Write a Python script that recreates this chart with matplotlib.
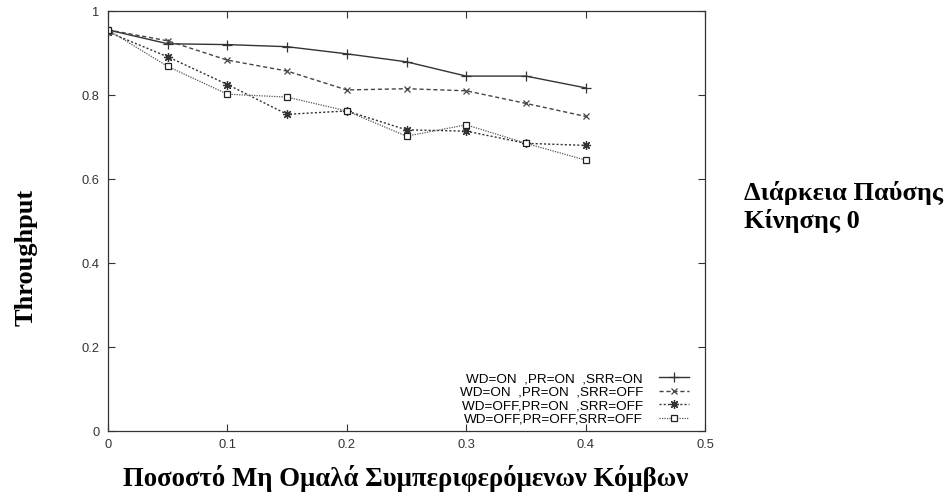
import matplotlib
matplotlib.use("Agg")
import matplotlib.pyplot as plt

# x: fraction of misbehaving nodes
x = [0.0, 0.05, 0.1, 0.15, 0.2, 0.25, 0.3, 0.35, 0.4]

# throughput per configuration
on_on_on = [0.955, 0.922, 0.920, 0.915, 0.898, 0.879, 0.845, 0.845, 0.817]
on_on_off = [0.955, 0.929, 0.883, 0.857, 0.812, 0.815, 0.810, 0.780, 0.749]
off_on_off = [0.950, 0.891, 0.825, 0.754, 0.762, 0.717, 0.714, 0.685, 0.680]
off_off_off = [0.955, 0.868, 0.802, 0.795, 0.762, 0.702, 0.729, 0.685, 0.645]

labels = [
    "WD=ON  ,PR=ON  ,SRR=ON",
    "WD=ON  ,PR=ON  ,SRR=OFF",
    "WD=OFF,PR=ON  ,SRR=OFF",
    "WD=OFF,PR=OFF,SRR=OFF",
]

xticks = [0, 0.1, 0.2, 0.3, 0.4, 0.5]
xticklabels = ["0", "0.1", "0.2", "0.3", "0.4", "0.5"]
yticks = [0, 0.2, 0.4, 0.6, 0.8, 1]
yticklabels = ["0", "0.2", "0.4", "0.6", "0.8", "1"]

serif = ["Liberation Serif", "DejaVu Serif"]

fig = plt.figure(figsize=(9.5, 5.01), dpi=100)
ax = fig.add_axes([108 / 950, 1 - 431 / 501, (705 - 108) / 950, (431 - 11) / 501])

ax.plot(x, on_on_on, color="#333333", lw=1.0, ls="-", marker="+", ms=7, mew=0.9,
        label=labels[0])
ax.plot(x, on_on_off, color="#444444", lw=1.0, ls=(0, (3, 2)), marker="x", ms=5, mew=0.9,
        label=labels[1])
ax.plot(x, off_on_off, color="#333333", lw=1.0, ls=(0, (1.5, 1.5)), marker=(8, 2, 0), ms=6.5,
        mew=0.9, label=labels[2])
ax.plot(x, off_off_off, color="#555555", lw=0.9, ls=(0, (1, 1)), marker="s", ms=5,
        mfc="white", mec="#222222", mew=0.9, label=labels[3])

ax.set_xlim(0, 0.5)
ax.set_ylim(0, 1)
ax.set_xticks(xticks)
ax.set_xticklabels(xticklabels)
ax.set_yticks(yticks)
ax.set_yticklabels(yticklabels)
ax.tick_params(direction="in", top=True, right=True, length=5, width=0.8,
               labelsize=9.3, colors="#333333", pad=6)
for lbl in ax.get_xticklabels() + ax.get_yticklabels():
    lbl.set_family("Liberation Sans")
for sp in ax.spines.values():
    sp.set_color("#333333")
    sp.set_linewidth(0.9)

leg = ax.legend(loc="lower right", bbox_to_anchor=(0.993, -0.016), frameon=False,
                markerfirst=False, handlelength=2.2, labelspacing=0.08,
                handletextpad=1.2, prop={"family": "Liberation Sans", "size": 9.7})

fig.text(26 / 950, 1 - 257 / 501, "Throughput", rotation=90, ha="center", va="center",
         fontsize=19, fontweight="bold", family=serif)
fig.text(406 / 950, 1 - 478 / 501, "Ποσοστό Μη Ομαλά Συμπεριφερόμενων Κόμβων",
         ha="center", va="center", fontsize=19.3, fontweight="bold", family=serif)
fig.text(744 / 950, 1 - 207 / 501, "Διάρκεια Παύσης\nΚίνησης 0", ha="left", va="center",
         fontsize=19, fontweight="bold", family=serif, linespacing=1.25)

fig.savefig("out.png", dpi=100)
